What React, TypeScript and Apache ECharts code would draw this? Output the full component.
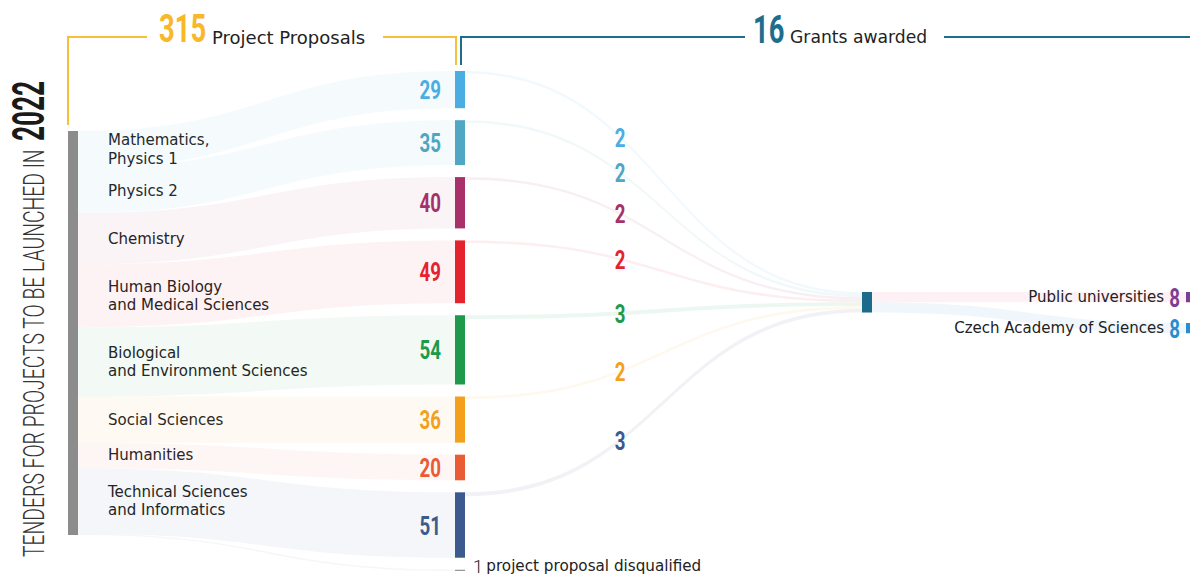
import React, { useEffect, useRef } from "react";
import * as echarts from "echarts";

// ---------- DATA ----------
const categories = [
  "Mathematics,\nPhysics 1",
  "Physics 2",
  "Chemistry",
  "Human Biology\nand Medical Sciences",
  "Biological\nand Environment Sciences",
  "Social Sciences",
  "Humanities",
  "Technical Sciences\nand Informatics",
];
const proposals = [29, 35, 40, 49, 54, 36, 20, 51];
const grants = [2, 2, 2, 2, 3, 2, 0, 3];
const categoryColors = ["#4aaee2", "#4fa7c3", "#a93068", "#e5232f", "#1d9a4c", "#f4a01c", "#ea5c33", "#3c5a8e"];
const disqualified = 1;
const totalProposals = 315;
const totalGrants = 16;
const institutions = ["Public universities", "Czech Academy of Sciences"];
const institutionGrants = [8, 8];
const institutionColors = ["#7c3d97", "#2b8dcf"];
const institutionLinkColors = ["#e8336b", "#2b8dcf"];
const titleText = "TENDERS FOR PROJECTS TO BE LAUNCHED IN";
const titleYear = "2022";

// ---------- LAYOUT / STYLE ----------
const L = {
  left: 68,
  top: 71,
  width: 1128,
  height: 500,
  nodeWidth: 10,
  nodeGap: 12,
  catX: 455,
  grantX: 862,
  grayY: 131,
  grantY: 292,
  instY: [292, 323],
  valueLabelX: 620,
};
const NUM = "Roboto";
const SANS = "'DejaVu Sans', 'Noto Sans', sans-serif";
const TEXT = "#222222";

function measure(text: string, font: string) {
  const c = document.createElement("canvas");
  const ctx = c.getContext("2d")!;
  ctx.font = font;
  return ctx.measureText(text).width;
}

function catName(i: number) {
  return categories[i].replace("\n", " ");
}

function numText(x: number, y: number, text: string, color: string, size: number, align: string, scale = 0.72, weight: any = "bold") {
  return {
    type: "text",
    x,
    y,
    scaleX: scale,
    style: {
      text,
      fill: color,
      fontFamily: NUM,
      fontWeight: weight,
      fontSize: size,
      textAlign: align,
      align,
      textVerticalAlign: "middle",
      verticalAlign: "middle",
    },
  };
}

export default function App() {
  const ref = useRef<HTMLDivElement>(null);

  useEffect(() => {
    if (!ref.current) return;
    const chart = echarts.init(ref.current, undefined, { renderer: "svg" });

    const nCol = proposals.length + 1;
    const k = (L.height - (nCol - 1) * L.nodeGap) / totalProposals;

    const catTops: number[] = [];
    let yy = L.top;
    proposals.forEach((v) => {
      catTops.push(yy);
      yy += v * k + L.nodeGap;
    });

    const nodes: any[] = [];
    nodes.push({
      name: "Tenders",
      value: totalProposals,
      localY: (L.grayY - L.top) / L.height,
      itemStyle: { color: "#8c8c8c" },
      label: { show: false },
    });
    categories.forEach((c, i) => {
      nodes.push({
        name: catName(i),
        value: proposals[i],
        localX: (L.catX - L.left) / L.width,
        itemStyle: { color: categoryColors[i] },
        label: { show: false },
      });
    });
    nodes.push({
      name: "Disqualified",
      value: disqualified,
      localX: (L.catX - L.left) / L.width,
      itemStyle: { color: "#9a9a9a" },
      label: {
        show: true,
        position: "right",
        distance: 8,
        offset: [0, -4],
        formatter: `{v|${disqualified}} {n|project proposal disqualified}`,
        rich: {
          v: { fontFamily: NUM, fontWeight: 300, fontSize: 18, color: TEXT, lineHeight: 16 },
          n: { fontFamily: SANS, fontSize: 15.2, color: TEXT, lineHeight: 16 },
        },
      },
    });
    nodes.push({
      name: "Grants",
      value: totalGrants,
      localX: (L.grantX - L.left) / L.width,
      localY: (L.grantY - L.top) / L.height,
      itemStyle: { color: "#1c6b8b" },
      label: { show: false },
    });
    institutions.forEach((n, i) => {
      nodes.push({
        name: n,
        value: institutionGrants[i],
        localY: (L.instY[i] - L.top) / L.height,
        itemStyle: { color: institutionColors[i] },
        label: {
          show: true,
          position: "left",
          distance: 22,
          formatter: n,
          fontFamily: SANS,
          fontSize: 15,
          color: TEXT,
        },
      });
    });

    const links: any[] = [];
    categories.forEach((c, i) => {
      links.push({
        source: "Tenders",
        target: catName(i),
        value: proposals[i],
        lineStyle: { color: categoryColors[i], opacity: 0.055 },
      });
    });
    links.push({
      source: "Tenders",
      target: "Disqualified",
      value: disqualified,
      lineStyle: { color: "#888888", opacity: 0.08 },
    });
    categories.forEach((c, i) => {
      if (grants[i] > 0)
        links.push({
          source: catName(i),
          target: "Grants",
          value: grants[i],
          lineStyle: { color: categoryColors[i], opacity: 0.08 },
        });
    });
    institutions.forEach((n, i) => {
      links.push({
        source: "Grants",
        target: n,
        value: institutionGrants[i],
        lineStyle: { color: institutionLinkColors[i], opacity: 0.07 },
      });
    });

    const graphics: any[] = [];
    // category names at the left ends of the bands
    let cum = 0;
    categories.forEach((c, i) => {
      const y = L.grayY + (cum + proposals[i] / 2) * k;
      cum += proposals[i];
      graphics.push({
        type: "text",
        x: 108,
        y,
        style: {
          text: c,
          fill: TEXT,
          fontFamily: SANS,
          fontSize: 15,
          lineHeight: 18.5,
          textAlign: "left",
          textVerticalAlign: "middle",
          align: "left",
          verticalAlign: "middle",
        },
      });
    });
    // proposal counts next to category nodes
    categories.forEach((c, i) => {
      graphics.push(numText(441, catTops[i] + (proposals[i] * k) / 2 + 1, String(proposals[i]), categoryColors[i], 26, "right"));
    });
    // institution counts
    institutions.forEach((n, i) => {
      graphics.push(numText(1180, L.instY[i] + (institutionGrants[i] * k) / 2 + 1, String(institutionGrants[i]), institutionColors[i], 26, "right"));
    });
    // grant values on the thin links
    let cumG = 0;
    categories.forEach((c, i) => {
      const g = grants[i];
      if (g <= 0) return;
      const x1 = L.catX + L.nodeWidth;
      const x2 = L.grantX;
      const y1 = catTops[i] + (g * k) / 2;
      const y2 = L.grantY + (cumG + g / 2) * k;
      cumG += g;
      const m = (x1 + x2) / 2;
      const bx = (t: number) => (1 - t) ** 3 * x1 + 3 * (1 - t) ** 2 * t * m + 3 * (1 - t) * t * t * m + t ** 3 * x2;
      let lo = 0,
        hi = 1;
      for (let it = 0; it < 40; it++) {
        const mid = (lo + hi) / 2;
        if (bx(mid) < L.valueLabelX) lo = mid;
        else hi = mid;
      }
      const t = (lo + hi) / 2;
      const y = y1 + (y2 - y1) * (3 * t * t - 2 * t * t * t);
      graphics.push(numText(L.valueLabelX, y + 1, String(g), categoryColors[i], 26, "center"));
    });

    // header brackets
    const yellow = "#f8bf3a";
    const teal = "#1e6d8c";
    graphics.push(
      { type: "polyline", shape: { points: [[68, 125], [68, 37], [147, 37]] }, style: { stroke: yellow, lineWidth: 2, fill: "none" } },
      { type: "polyline", shape: { points: [[383, 37], [456, 37], [456, 65]] }, style: { stroke: yellow, lineWidth: 2, fill: "none" } },
      { type: "polyline", shape: { points: [[461, 65], [461, 37], [745, 37]] }, style: { stroke: teal, lineWidth: 2, fill: "none" } },
      { type: "line", shape: { x1: 944, y1: 37, x2: 1190, y2: 37 }, style: { stroke: teal, lineWidth: 2 } },
      numText(159, 29, String(totalProposals), "#f9b72a", 38, "left", 0.72),
      {
        type: "text",
        x: 212,
        y: 37,
        style: { text: "Project Proposals", fill: TEXT, fontFamily: SANS, fontSize: 18, textAlign: "left", align: "left", textVerticalAlign: "middle", verticalAlign: "middle" },
      },
      numText(753, 30, String(totalGrants), teal, 38, "left", 0.72),
      {
        type: "text",
        x: 790,
        y: 37,
        style: { text: "Grants awarded", fill: TEXT, fontFamily: SANS, fontSize: 17.2, textAlign: "left", align: "left", textVerticalAlign: "middle", verticalAlign: "middle" },
      }
    );

    // vertical title
    const tFont = `300 30px ${NUM}`;
    const yFont = `bold 45px ${NUM}`;
    const tScale = 408 / measure(titleText, tFont);
    const yScale = 60 / measure(titleYear, yFont);
    graphics.push(
      {
        type: "text",
        x: 49,
        y: 557,
        rotation: Math.PI / 2,
        scaleX: tScale,
        style: { text: titleText, fill: "#333333", fontFamily: NUM, fontWeight: 300, fontSize: 30, textAlign: "left", align: "left", textVerticalAlign: "bottom", verticalAlign: "bottom" },
      },
      {
        type: "text",
        x: 51,
        y: 141,
        rotation: Math.PI / 2,
        scaleX: yScale,
        style: { text: titleYear, fill: "#1a1a1a", fontFamily: NUM, fontWeight: "bold", fontSize: 45, textAlign: "left", align: "left", textVerticalAlign: "bottom", verticalAlign: "bottom" },
      }
    );

    chart.setOption({
      animation: false,
      backgroundColor: "#ffffff",
      tooltip: { show: false },
      series: [
        {
          type: "sankey",
          left: L.left,
          top: L.top,
          width: L.width,
          height: L.height,
          nodeWidth: L.nodeWidth,
          nodeGap: L.nodeGap,
          nodeAlign: "left",
          layoutIterations: 0,
          draggable: false,
          emphasis: { disabled: true },
          lineStyle: { curveness: 0.5 },
          data: nodes,
          links,
        },
      ],
      graphic: graphics,
    });

    return () => chart.dispose();
  }, []);

  return (
    <div
      ref={ref}
      style={{ position: "absolute", left: 0, top: 0, width: 1190, height: 576, background: "#fff" }}
    />
  );
}
